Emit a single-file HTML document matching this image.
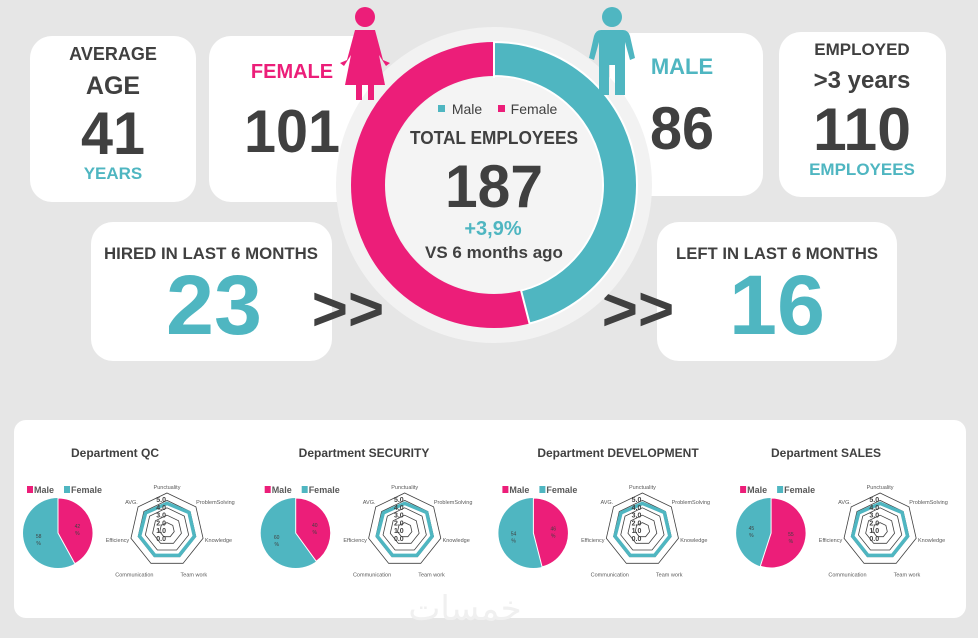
<!DOCTYPE html>
<html><head><meta charset="utf-8">
<style>
html,body{margin:0;padding:0;background:#e6e6e6;}
body{width:978px;height:633px;overflow:hidden;font-family:"Liberation Sans",sans-serif;}
</style></head>
<body>
<svg id="s" width="978" height="633" viewBox="0 0 978 633" xmlns="http://www.w3.org/2000/svg" font-family="Liberation Sans, sans-serif">
<rect width="978" height="633" fill="#e6e6e6"/>
<rect x="30" y="36" width="166" height="166" rx="22" fill="#fff"/>
<rect x="209" y="36" width="170" height="166" rx="22" fill="#fff"/>
<rect x="610" y="33" width="153" height="163" rx="22" fill="#fff"/>
<rect x="779" y="32" width="167" height="165" rx="22" fill="#fff"/>
<rect x="91" y="222" width="241" height="139" rx="22" fill="#fff"/>
<rect x="657" y="222" width="240" height="139" rx="22" fill="#fff"/>
<rect x="14" y="420" width="952" height="198" rx="12" fill="#fff"/>

<g font-weight="bold" text-anchor="middle" fill="#404040">
<text x="113" y="60" font-size="18">AVERAGE</text>
<text x="113" y="94" font-size="25">AGE</text>
<text x="113" y="154" font-size="60" textLength="64" lengthAdjust="spacingAndGlyphs">41</text>
<text x="113" y="179" font-size="17" fill="#4fb6c1">YEARS</text>
<text x="292" y="78" font-size="20" fill="#ec1e79">FEMALE</text>
<text x="292" y="152" font-size="60" textLength="96" lengthAdjust="spacingAndGlyphs">101</text>
<text x="682" y="74" font-size="22" fill="#4fb6c1">MALE</text>
<text x="682" y="149" font-size="60" textLength="64" lengthAdjust="spacingAndGlyphs">86</text>
<text x="862" y="55" font-size="17">EMPLOYED</text>
<text x="862" y="88" font-size="24">&gt;3 years</text>
<text x="862" y="150" font-size="60" textLength="98" lengthAdjust="spacingAndGlyphs">110</text>
<text x="862" y="175" font-size="17" fill="#4fb6c1">EMPLOYEES</text>
<text x="211" y="259" font-size="17" textLength="214" lengthAdjust="spacingAndGlyphs">HIRED IN LAST 6 MONTHS</text>
<text x="214" y="334" font-size="84" fill="#4fb6c1" textLength="96" lengthAdjust="spacingAndGlyphs">23</text>
<text x="777" y="259" font-size="17" textLength="202" lengthAdjust="spacingAndGlyphs">LEFT IN LAST 6 MONTHS</text>
<text x="777" y="334" font-size="84" fill="#4fb6c1" textLength="96" lengthAdjust="spacingAndGlyphs">16</text>
<text x="348" y="330" font-size="62">&gt;&gt;</text>
<text x="638" y="330" font-size="62">&gt;&gt;</text>
</g>

<circle cx="494" cy="185" r="158" fill="#f2f2f2"/>
<circle cx="494" cy="185" r="126" fill="none" stroke="#ec1e79" stroke-width="34"/>
<path id="male" fill="#4fb6c1" stroke="#fff" stroke-width="2"/>
<circle cx="494" cy="185" r="108" fill="#f4f4f4"/>
<line x1="494" y1="41" x2="494" y2="78" stroke="#fff" stroke-width="2"/>

<g fill="#ec1e79">
<circle cx="365" cy="17" r="10"/>
<path d="M355 30 L375 30 L383 60 L390 63 L386 66 L379 55 L385 85 L374 85 L374 100 L368 100 L368 85 L362 85 L362 100 L356 100 L356 85 L345 85 L351 55 L344 66 L340 63 L347 60 Z"/>
</g>
<g fill="#4fb6c1">
<circle cx="612" cy="17" r="10"/>
<path d="M601 30 L623 30 Q628 30 630 36 L635 58 L630 60 L625 42 L625 95 L615 95 L615 65 L609 65 L609 95 L599 95 L599 42 L594 60 L589 58 L594 36 Q596 30 601 30 Z"/>
</g>

<g text-anchor="middle" fill="#404040">
<rect x="438" y="105" width="7" height="7" fill="#4fb6c1"/>
<text x="467" y="114" font-size="14">Male</text>
<rect x="498" y="105" width="7" height="7" fill="#ec1e79"/>
<text x="534" y="114" font-size="14">Female</text>
<text x="494" y="144" font-size="18" font-weight="bold" textLength="168" lengthAdjust="spacingAndGlyphs">TOTAL EMPLOYEES</text>
<text x="494" y="207" font-size="60" font-weight="bold" textLength="98" lengthAdjust="spacingAndGlyphs">187</text>
<text x="493" y="235" font-size="20" font-weight="bold" fill="#4fb6c1">+3,9%</text>
<text x="494" y="258" font-size="17" font-weight="bold">VS 6 months ago</text>
</g>

<g id="depts"></g>
<text x="465" y="620" font-size="34" fill="#f0f0f0" text-anchor="middle" font-family="DejaVu Sans, sans-serif">خمسات</text>
</svg>
<script>
(function(){
var NS="http://www.w3.org/2000/svg";
function el(t,a,p,txt){var e=document.createElementNS(NS,t);for(var k in a)e.setAttribute(k,a[k]);if(txt!==undefined)e.textContent=txt;p.appendChild(e);return e;}
function pt(cx,cy,r,ang){var a=(ang-90)*Math.PI/180;return [cx+r*Math.cos(a),cy+r*Math.sin(a)];}
var cx=494,cy=185,ro=143,ri=109,end=165.6;
var a=pt(cx,cy,ro,0),b=pt(cx,cy,ro,end),c=pt(cx,cy,ri,end),d=pt(cx,cy,ri,0);
document.getElementById('male').setAttribute('d','M'+a+' A'+ro+' '+ro+' 0 0 1 '+b+' L'+c+' A'+ri+' '+ri+' 0 0 0 '+d+' Z');
var g=document.getElementById('depts');
var depts=[["Department QC",115,42,58],["Department SECURITY",364,40,60],["Department DEVELOPMENT",618,46,54],["Department SALES",826,55,45]];
var labels=["Punctuality","ProblemSolving","Knowledge","Team work","Communication","Efficiency","AVG."];
var vals=[3.6,3.8,3.8,3.8,3.8,3.8,3.7];
depts.forEach(function(dp,i){
 var off=i*237.7;
 el('text',{x:dp[1],y:457,'font-size':12,'font-weight':'bold',fill:'#404040','text-anchor':'middle'},g,dp[0]);
 var lx=27+off;
 el('rect',{x:lx,y:486,width:6,height:7,fill:'#ec1e79'},g);
 el('text',{x:lx+7,y:493,'font-size':9,'font-weight':'bold',fill:'#595959'},g,'Male');
 el('rect',{x:lx+37,y:486,width:6,height:7,fill:'#4fb6c1'},g);
 el('text',{x:lx+44,y:493,'font-size':9,'font-weight':'bold',fill:'#595959'},g,'Female');
 var pcx=58+off,pcy=533,r=35,m=dp[2]*3.6;
 var p1=pt(pcx,pcy,r,0),p2=pt(pcx,pcy,r,m);
 el('circle',{cx:pcx,cy:pcy,r:r,fill:'#4fb6c1'},g);
 el('path',{d:'M'+pcx+' '+pcy+' L'+p1+' A'+r+' '+r+' 0 '+(m>180?1:0)+' 1 '+p2+' Z',fill:'#ec1e79',stroke:'#fff','stroke-width':1},g);
 var lm=pt(pcx,pcy,20,m/2),lf=pt(pcx,pcy,20,m+(360-m)/2);
 el('text',{x:lm[0],y:lm[1],'font-size':5,fill:'#404040','text-anchor':'middle'},g,dp[2]);
 el('text',{x:lm[0],y:lm[1]+7,'font-size':5,fill:'#404040','text-anchor':'middle'},g,'%');
 el('text',{x:lf[0],y:lf[1],'font-size':5,fill:'#404040','text-anchor':'middle'},g,dp[3]);
 el('text',{x:lf[0],y:lf[1]+7,'font-size':5,fill:'#404040','text-anchor':'middle'},g,'%');
 var rcx=167+off,rcy=530,R=37;
 for(var k=1;k<=5;k++){var rr=R*k/5,s=[];for(var j=0;j<7;j++)s.push(pt(rcx,rcy,rr,j*360/7).join(','));
  el('polygon',{points:s.join(' '),fill:'none',stroke:'#404040','stroke-width':0.8},g);}
 var s2=[];for(var j=0;j<7;j++)s2.push(pt(rcx,rcy,R*vals[j]/5,j*360/7).join(','));
 el('polygon',{points:s2.join(' '),fill:'none',stroke:'#4fb6c1','stroke-width':3.5},g);
 ["5.0","4.0","3.0","2.0","1.0","0.0"].forEach(function(t,k){
  el('text',{x:rcx-1,y:rcy-R+9+k*7.8,'font-size':7,'font-weight':'bold',fill:'#404040','text-anchor':'end'},g,t);});
 labels.forEach(function(t,j){var q=pt(rcx,rcy,R+8,j*360/7);var anc='middle';
  if(q[0]>rcx+5)anc='start';else if(q[0]<rcx-5)anc='end';
  if(j==0)q[1]+=2;if(j==3||j==4)q[1]+=4;
  el('text',{x:q[0]+(anc=='end'?6:(anc=='start'?-6:0)),y:q[1]+2,'font-size':5.5,fill:'#595959','text-anchor':anc},g,t);});
});
})();
</script>
</body></html>
